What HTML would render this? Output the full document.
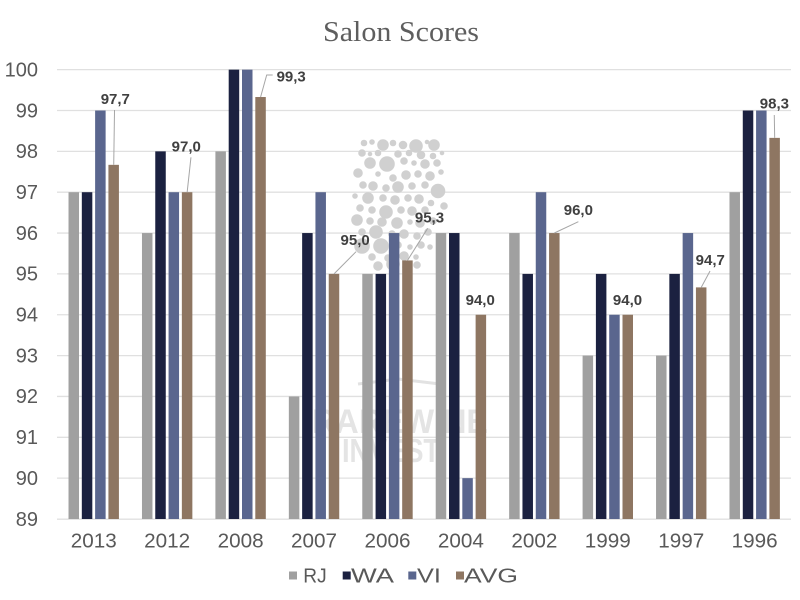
<!DOCTYPE html>
<html>
<head>
<meta charset="utf-8">
<style>
  html, body { margin:0; padding:0; background:#ffffff; }
  svg { display:block; }
</style>
</head>
<body>
<svg width="800" height="600" viewBox="0 0 800 600" xmlns="http://www.w3.org/2000/svg">
  <rect x="0" y="0" width="800" height="600" fill="#ffffff"/>

  <!-- Title -->
  <text x="401" y="41" text-anchor="middle" font-family="'Liberation Serif', serif" font-size="29" fill="#5e5e5e" textLength="156" lengthAdjust="spacingAndGlyphs">Salon Scores</text>

  <!-- Gridlines -->
  <g stroke="#e0e0e0" stroke-width="1.3">
    <line x1="57" y1="69.65" x2="791" y2="69.65"/>
    <line x1="57" y1="110.5" x2="791" y2="110.5"/>
    <line x1="57" y1="151.35" x2="791" y2="151.35"/>
    <line x1="57" y1="192.2" x2="791" y2="192.2"/>
    <line x1="57" y1="233.05" x2="791" y2="233.05"/>
    <line x1="57" y1="273.9" x2="791" y2="273.9"/>
    <line x1="57" y1="314.75" x2="791" y2="314.75"/>
    <line x1="57" y1="355.6" x2="791" y2="355.6"/>
    <line x1="57" y1="396.45" x2="791" y2="396.45"/>
    <line x1="57" y1="437.3" x2="791" y2="437.3"/>
    <line x1="57" y1="478.15" x2="791" y2="478.15"/>
    <line x1="57" y1="519.2" x2="791" y2="519.2"/>
  </g>

  <!-- Watermark -->
  <g fill="#d0d0d0" stroke="#d0d0d0" stroke-width="1.6">
    <circle cx="364" cy="143" r="2.5"/><circle cx="372" cy="142" r="2"/><circle cx="383" cy="145" r="5"/><circle cx="393" cy="143" r="2.5"/><circle cx="403" cy="145" r="3.5"/><circle cx="416" cy="146" r="6"/><circle cx="427" cy="142" r="1.5"/><circle cx="434" cy="145" r="5"/>
    <circle cx="362" cy="153" r="3"/><circle cx="370" cy="154" r="1.5"/><circle cx="378" cy="153" r="2.5"/><circle cx="398" cy="154" r="3"/><circle cx="409" cy="153" r="2.5"/><circle cx="421" cy="155" r="3.5"/><circle cx="433" cy="156" r="2.5"/><circle cx="442" cy="153" r="1.5"/>
    <circle cx="370" cy="163" r="5"/><circle cx="387" cy="164" r="7"/><circle cx="404" cy="161" r="3"/><circle cx="414" cy="163" r="2"/><circle cx="425" cy="164" r="4"/><circle cx="437" cy="163" r="3"/>
    <circle cx="358" cy="173" r="4"/><circle cx="378" cy="174" r="2"/><circle cx="393" cy="178" r="3"/><circle cx="406" cy="175" r="4"/><circle cx="418" cy="174" r="3"/><circle cx="430" cy="176" r="4"/><circle cx="441" cy="172" r="2"/>
    <circle cx="363" cy="185" r="3"/><circle cx="373" cy="186" r="4"/><circle cx="386" cy="188" r="3"/><circle cx="398" cy="187" r="5"/><circle cx="412" cy="186" r="3"/><circle cx="425" cy="185" r="3"/><circle cx="438" cy="191" r="6.5"/>
    <circle cx="355" cy="196" r="2"/><circle cx="368" cy="198" r="5"/><circle cx="383" cy="198" r="3"/><circle cx="395" cy="200" r="4"/><circle cx="408" cy="198" r="3"/><circle cx="419" cy="199" r="4"/><circle cx="431" cy="203" r="2.5"/>
    <circle cx="360" cy="208" r="3"/><circle cx="372" cy="210" r="3"/><circle cx="386" cy="212" r="6"/><circle cx="401" cy="210" r="3"/><circle cx="412" cy="211" r="4"/><circle cx="425" cy="210" r="3"/><circle cx="444" cy="206" r="3"/>
    <circle cx="357" cy="220" r="5"/><circle cx="370" cy="221" r="3"/><circle cx="382" cy="222" r="4"/><circle cx="397" cy="223" r="5"/><circle cx="410" cy="222" r="2"/><circle cx="420" cy="223" r="4"/><circle cx="433" cy="221" r="3"/>
    <circle cx="362" cy="232" r="3"/><circle cx="376" cy="232" r="6"/><circle cx="392" cy="234" r="3"/><circle cx="404" cy="234" r="4"/><circle cx="417" cy="236" r="3"/><circle cx="428" cy="232" r="3"/>
    <circle cx="362" cy="246" r="7"/><circle cx="381" cy="246" r="7"/><circle cx="398" cy="245" r="3"/><circle cx="410" cy="247" r="2"/><circle cx="421" cy="245" r="3"/><circle cx="430" cy="247" r="2"/>
    <circle cx="372" cy="257" r="3"/><circle cx="388" cy="258" r="3"/><circle cx="404" cy="256" r="4"/><circle cx="416" cy="257" r="2"/>
    <circle cx="378" cy="266" r="4"/><circle cx="393" cy="264" r="6"/><circle cx="406" cy="267" r="3"/><circle cx="417" cy="265" r="3"/>
  </g>
  <path d="M358 384 L398 379 L440 384" fill="none" stroke="#e2e2e2" stroke-width="3"/>
  <text x="400" y="433" text-anchor="middle" font-family="'Liberation Sans', sans-serif" font-weight="bold" font-size="34" fill="#e4e4e4" textLength="176" lengthAdjust="spacingAndGlyphs">RAREWINE</text>
  <text x="391" y="462" text-anchor="middle" font-family="'Liberation Sans', sans-serif" font-weight="bold" font-size="33" fill="#e4e4e4" textLength="98" lengthAdjust="spacingAndGlyphs">INVEST</text>

  <!-- Y axis labels -->
  <g font-family="'Liberation Sans', sans-serif" font-size="20" fill="#595959" text-anchor="end">
    <text x="38" y="76.5">100</text>
    <text x="38" y="117.3">99</text>
    <text x="38" y="158.1">98</text>
    <text x="38" y="199">97</text>
    <text x="38" y="239.8">96</text>
    <text x="38" y="280.7">95</text>
    <text x="38" y="321.5">94</text>
    <text x="38" y="362.4">93</text>
    <text x="38" y="403.2">92</text>
    <text x="38" y="444.1">91</text>
    <text x="38" y="484.9">90</text>
    <text x="38" y="525.8">89</text>
  </g>

  <!-- Bars & labels -->
  <g font-family="'Liberation Sans', sans-serif">
    <!-- 2013 -->
    <g transform="translate(93.72,0)">
      <rect x="-25.2" y="192.2" width="10.5" height="326.8" fill="#a0a0a0"/>
      <rect x="-11.9" y="192.2" width="10.5" height="326.8" fill="#1b2140"/>
      <rect x="1.4" y="110.5" width="10.5" height="408.5" fill="#5a668e"/>
      <rect x="14.7" y="164.83" width="10.5" height="354.17" fill="#8e7662"/>
      <line x1="20.8" y1="110" x2="20" y2="164.8" stroke="#a6a6a6" stroke-width="1"/>
      <text x="21.6" y="104" text-anchor="middle" font-size="15" font-weight="bold" fill="#404040">97,7</text>
      <text x="0" y="547.7" text-anchor="middle" font-size="20" fill="#595959" textLength="46" lengthAdjust="spacingAndGlyphs">2013</text>
    </g>
    <!-- 2012 -->
    <g transform="translate(167.16,0)">
      <rect x="-25.2" y="233.05" width="10.5" height="285.95" fill="#a0a0a0"/>
      <rect x="-11.9" y="151.35" width="10.5" height="367.65" fill="#1b2140"/>
      <rect x="1.4" y="192.2" width="10.5" height="326.8" fill="#5a668e"/>
      <rect x="14.7" y="192.2" width="10.5" height="326.8" fill="#8e7662"/>
      <line x1="23.8" y1="157.3" x2="20" y2="192.2" stroke="#a6a6a6" stroke-width="1"/>
      <text x="19.1" y="151.7" text-anchor="middle" font-size="15" font-weight="bold" fill="#404040">97,0</text>
      <text x="0" y="547.7" text-anchor="middle" font-size="20" fill="#595959" textLength="46" lengthAdjust="spacingAndGlyphs">2012</text>
    </g>
    <!-- 2008 -->
    <g transform="translate(240.6,0)">
      <rect x="-25.2" y="151.35" width="10.5" height="367.65" fill="#a0a0a0"/>
      <rect x="-11.9" y="69.65" width="10.5" height="449.35" fill="#1b2140"/>
      <rect x="1.4" y="69.65" width="10.5" height="449.35" fill="#5a668e"/>
      <rect x="14.7" y="97.02" width="10.5" height="421.98" fill="#8e7662"/>
      <polyline points="32.1,75 26.1,75 20,97" fill="none" stroke="#a6a6a6" stroke-width="1"/>
      <text x="50.6" y="81.7" text-anchor="middle" font-size="15" font-weight="bold" fill="#404040">99,3</text>
      <text x="0" y="547.7" text-anchor="middle" font-size="20" fill="#595959" textLength="46" lengthAdjust="spacingAndGlyphs">2008</text>
    </g>
    <!-- 2007 -->
    <g transform="translate(314.04,0)">
      <rect x="-25.2" y="396.45" width="10.5" height="122.55" fill="#a0a0a0"/>
      <rect x="-11.9" y="233.05" width="10.5" height="285.95" fill="#1b2140"/>
      <rect x="1.4" y="192.2" width="10.5" height="326.8" fill="#5a668e"/>
      <rect x="14.7" y="273.9" width="10.5" height="245.1" fill="#8e7662"/>
      <line x1="42" y1="251.7" x2="20" y2="273.9" stroke="#a6a6a6" stroke-width="1"/>
      <text x="41.1" y="245" text-anchor="middle" font-size="15" font-weight="bold" fill="#404040">95,0</text>
      <text x="0" y="547.7" text-anchor="middle" font-size="20" fill="#595959" textLength="46" lengthAdjust="spacingAndGlyphs">2007</text>
    </g>
    <!-- 2006 -->
    <g transform="translate(387.48,0)">
      <rect x="-25.2" y="273.9" width="10.5" height="245.1" fill="#a0a0a0"/>
      <rect x="-11.9" y="273.9" width="10.5" height="245.1" fill="#1b2140"/>
      <rect x="1.4" y="233.05" width="10.5" height="285.95" fill="#5a668e"/>
      <rect x="14.7" y="260.42" width="10.5" height="258.58" fill="#8e7662"/>
      <line x1="40.2" y1="228.3" x2="20" y2="260.4" stroke="#a6a6a6" stroke-width="1"/>
      <text x="42" y="222.3" text-anchor="middle" font-size="15" font-weight="bold" fill="#404040">95,3</text>
      <text x="0" y="547.7" text-anchor="middle" font-size="20" fill="#595959" textLength="46" lengthAdjust="spacingAndGlyphs">2006</text>
    </g>
    <!-- 2004 -->
    <g transform="translate(460.92,0)">
      <rect x="-25.2" y="233.05" width="10.5" height="285.95" fill="#a0a0a0"/>
      <rect x="-11.9" y="233.05" width="10.5" height="285.95" fill="#1b2140"/>
      <rect x="1.4" y="478.15" width="10.5" height="40.85" fill="#5a668e"/>
      <rect x="14.7" y="314.75" width="10.5" height="204.25" fill="#8e7662"/>
      <text x="19.3" y="305" text-anchor="middle" font-size="15" font-weight="bold" fill="#404040">94,0</text>
      <text x="0" y="547.7" text-anchor="middle" font-size="20" fill="#595959" textLength="46" lengthAdjust="spacingAndGlyphs">2004</text>
    </g>
    <!-- 2002 -->
    <g transform="translate(534.36,0)">
      <rect x="-25.2" y="233.05" width="10.5" height="285.95" fill="#a0a0a0"/>
      <rect x="-11.9" y="273.9" width="10.5" height="245.1" fill="#1b2140"/>
      <rect x="1.4" y="192.2" width="10.5" height="326.8" fill="#5a668e"/>
      <rect x="14.7" y="233.05" width="10.5" height="285.95" fill="#8e7662"/>
      <line x1="44" y1="221.7" x2="20" y2="233" stroke="#a6a6a6" stroke-width="1"/>
      <text x="44" y="215" text-anchor="middle" font-size="15" font-weight="bold" fill="#404040">96,0</text>
      <text x="0" y="547.7" text-anchor="middle" font-size="20" fill="#595959" textLength="46" lengthAdjust="spacingAndGlyphs">2002</text>
    </g>
    <!-- 1999 -->
    <g transform="translate(607.8,0)">
      <rect x="-25.2" y="355.6" width="10.5" height="163.4" fill="#a0a0a0"/>
      <rect x="-11.9" y="273.9" width="10.5" height="245.1" fill="#1b2140"/>
      <rect x="1.4" y="314.75" width="10.5" height="204.25" fill="#5a668e"/>
      <rect x="14.7" y="314.75" width="10.5" height="204.25" fill="#8e7662"/>
      <text x="19.7" y="305" text-anchor="middle" font-size="15" font-weight="bold" fill="#404040">94,0</text>
      <text x="0" y="547.7" text-anchor="middle" font-size="20" fill="#595959" textLength="46" lengthAdjust="spacingAndGlyphs">1999</text>
    </g>
    <!-- 1997 -->
    <g transform="translate(681.24,0)">
      <rect x="-25.2" y="355.6" width="10.5" height="163.4" fill="#a0a0a0"/>
      <rect x="-11.9" y="273.9" width="10.5" height="245.1" fill="#1b2140"/>
      <rect x="1.4" y="233.05" width="10.5" height="285.95" fill="#5a668e"/>
      <rect x="14.7" y="287.38" width="10.5" height="231.62" fill="#8e7662"/>
      <line x1="28.8" y1="271" x2="20" y2="287.4" stroke="#a6a6a6" stroke-width="1"/>
      <text x="29" y="265" text-anchor="middle" font-size="15" font-weight="bold" fill="#404040">94,7</text>
      <text x="0" y="547.7" text-anchor="middle" font-size="20" fill="#595959" textLength="46" lengthAdjust="spacingAndGlyphs">1997</text>
    </g>
    <!-- 1996 -->
    <g transform="translate(754.68,0)">
      <rect x="-25.2" y="192.2" width="10.5" height="326.8" fill="#a0a0a0"/>
      <rect x="-11.9" y="110.5" width="10.5" height="408.5" fill="#1b2140"/>
      <rect x="1.4" y="110.5" width="10.5" height="408.5" fill="#5a668e"/>
      <rect x="14.7" y="137.87" width="10.5" height="381.13" fill="#8e7662"/>
      <line x1="19.6" y1="115" x2="20" y2="137.9" stroke="#a6a6a6" stroke-width="1"/>
      <text x="19.7" y="108.3" text-anchor="middle" font-size="15" font-weight="bold" fill="#404040">98,3</text>
      <text x="0" y="547.7" text-anchor="middle" font-size="20" fill="#595959" textLength="46" lengthAdjust="spacingAndGlyphs">1996</text>
    </g>
  </g>

  <!-- Legend -->
  <g font-family="'Liberation Sans', sans-serif" font-size="20" fill="#595959">
    <rect x="289" y="571.5" width="8" height="8" fill="#a0a0a0"/>
    <text x="303.3" y="582.3" textLength="23.4" lengthAdjust="spacingAndGlyphs">RJ</text>
    <rect x="342.7" y="571.5" width="8" height="8" fill="#1b2140"/>
    <text x="351" y="582.3" textLength="43" lengthAdjust="spacingAndGlyphs">WA</text>
    <rect x="408.3" y="571.5" width="8" height="8" fill="#5a668e"/>
    <text x="417" y="582.3" textLength="24" lengthAdjust="spacingAndGlyphs">VI</text>
    <rect x="456" y="571.5" width="8" height="8" fill="#8e7662"/>
    <text x="464" y="582.3" textLength="54" lengthAdjust="spacingAndGlyphs">AVG</text>
  </g>
</svg>
</body>
</html>
